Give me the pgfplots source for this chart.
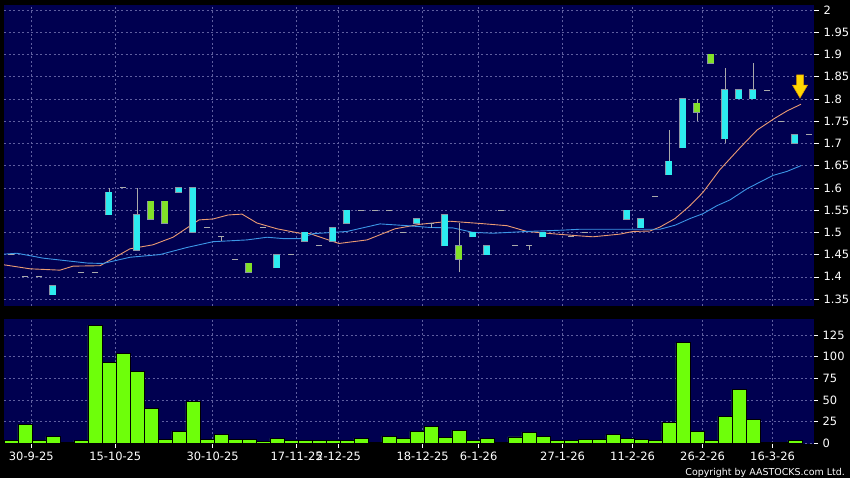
\documentclass[border=0pt]{standalone}
\usepackage{pgfplots}
\pgfplotsset{compat=1.18}
\usepackage{pgfplotstable}
\usepackage{fontspec}
\setmainfont{DejaVu Sans}

\definecolor{bgnavy}{RGB}{0,0,80}
\definecolor{gridc}{RGB}{95,95,160}
\definecolor{upc}{RGB}{45,235,240}
\definecolor{dnc}{RGB}{130,225,40}
\definecolor{outc}{RGB}{140,150,165}
\definecolor{volc}{RGB}{110,255,10}
\definecolor{maor}{RGB}{235,155,115}
\definecolor{mabl}{RGB}{60,150,230}
\definecolor{dashc}{RGB}{170,170,170}
\definecolor{arrowc}{RGB}{255,215,0}

% wicks: k low high
\pgfplotstableread{
k lo hi
7 1.54 1.60
9 1.46 1.60
15 1.48 1.49
30 1.51 1.52
32 1.41 1.52
37 1.46 1.47
47 1.63 1.73
49 1.75 1.80
51 1.70 1.87
53 1.80 1.88
}\wicks

% cyan bodies
\pgfplotstableread{
k lo hi
3 1.36 1.38
7 1.54 1.59
9 1.46 1.54
12 1.59 1.60
13 1.50 1.60
19 1.42 1.45
21 1.48 1.50
23 1.48 1.51
24 1.52 1.55
29 1.52 1.53
31 1.47 1.54
33 1.49 1.50
34 1.45 1.47
38 1.49 1.50
44 1.53 1.55
45 1.51 1.53
47 1.63 1.66
48 1.69 1.80
51 1.71 1.82
52 1.80 1.82
53 1.80 1.82
56 1.70 1.72
}\cyanbody

% green bodies
\pgfplotstableread{
k lo hi
10 1.53 1.57
11 1.52 1.57
17 1.41 1.43
32 1.44 1.47
49 1.77 1.79
50 1.88 1.90
}\greenbody

% flat days
\pgfplotstableread{
k v
0 1.45
1 1.40
2 1.40
5 1.41
6 1.41
8 1.60
14 1.51
15 1.49
16 1.44
18 1.51
20 1.45
22 1.47
25 1.55
26 1.55
27 1.55
28 1.50
30 1.52
35 1.55
36 1.47
37 1.47
40 1.49
41 1.50
46 1.58
54 1.82
55 1.75
57 1.72
}\flat

% volume
\pgfplotstableread{
k v
0 4
1 22
2 4
3 8
4 1.5
5 3.5
6 136
7 93
8 104
9 83
10 40
11 5
12 14
13 48
14 5
15 10
16 5
17 5
18 2.5
19 6
20 4
21 4
22 4
23 4
24 4
25 6
26 1.5
27 8.5
28 6
29 14
30 20
31 6.5
32 15.5
33 4
34 6
35 1.5
36 7.5
37 13
38 8
39 4
40 4
41 4.5
42 4.5
43 10
44 5.5
45 4.5
46 4
47 24.5
48 116
49 13.5
50 4
51 31.5
52 62
53 28
54 1.5
55 1.5
56 4
}\vol

\pgfplotsset{
  chartbase/.style={
    scale only axis, width=810bp, anchor=south west,
    xmin=-0.5, xmax=57.36, enlargelimits=false,
    axis background/.style={fill=bgnavy},
    axis line style={draw=none},
    xtick={1.45,7.45,14.4,20.4,23.4,29.4,33.4,39.4,44.4,49.4,54.4},
    grid=major,
    major grid style={gridc, dash pattern=on 2bp off 2.5bp, line width=0.6bp},
    yticklabel pos=right, ytick pos=right, xtick pos=lower, tick align=outside,
    ytick style={white, line width=0.6bp},
    major tick length=5bp,
    ticklabel style={font=\fontsize{11.5}{12}\selectfont, text=white},
    /pgf/number format/assume math mode=true,
    /pgf/number format/fixed,
    yticklabel style={anchor=west, inner sep=0pt, xshift=4.5bp},
  },
  bodystyle/.style n args={2}{draw=none, mark=none, forget plot,
    mark options={draw=none, fill=none},
    error bars/.cd, y dir=plus, y explicit, error mark=none,
    error bar style={line width=#2, draw=#1, line cap=butt}},
}

\begin{document}
\begin{tikzpicture}
\fill[black] (0,0) rectangle (850bp,478bp);
\useasboundingbox (0,0) rectangle (850bp,478bp);

% price panel
\begin{axis}[chartbase, at={(4bp,172bp)}, height=301bp,
  ymin=1.3344, ymax=2.0112,
  ytick={1.35,1.4,1.45,1.5,1.55,1.6,1.65,1.7,1.75,1.8,1.85,1.9,1.95,2},
  xticklabels={}, xtick style={draw=none},
]
% moving averages
\addplot[maor, line width=0.9bp] coordinates {
(-0.5,1.427) (1.36,1.418) (3.5,1.415) (4.43,1.424) (6.36,1.425) (8.5,1.463)
(10.14,1.472) (11.57,1.489) (13.43,1.528) (14.43,1.53) (15.5,1.539) (16.5,1.541)
(17.57,1.521) (19,1.508) (20.64,1.498) (21.36,1.497) (23.43,1.475) (25.43,1.483)
(27.43,1.508) (29.2,1.518) (31.36,1.525) (33.5,1.52) (35.43,1.515) (36.86,1.502)
(39,1.496) (40.64,1.492) (41.57,1.49) (43.5,1.496) (44.43,1.502) (45.64,1.503)
(46.36,1.512) (47.43,1.531) (48.5,1.56) (49.43,1.59) (50.64,1.641) (52.07,1.69)
(53.29,1.73) (54.43,1.754) (55.43,1.773) (56.43,1.788)
};
\addplot[mabl, line width=0.9bp] coordinates {
(-0.5,1.451) (0.43,1.453) (2.29,1.442) (5.43,1.431) (6.57,1.43) (8.5,1.444)
(10.64,1.45) (12.57,1.466) (14.43,1.479) (16.86,1.483) (18.29,1.489) (19.43,1.486)
(20.64,1.486) (21.57,1.497) (24,1.502) (26.36,1.519) (28.29,1.515) (29.93,1.511)
(31.57,1.51) (33,1.50) (34.43,1.498) (36.86,1.502) (39.43,1.505) (40.64,1.507)
(46.36,1.507) (47.43,1.516) (48.5,1.531) (49.43,1.542) (50.43,1.56) (51.36,1.573)
(52.57,1.598) (54.43,1.628) (55.43,1.637) (56.43,1.65)
};
% wicks
\addplot[bodystyle={dashc}{0.9bp}] table[x=k, y=lo, y error plus expr={\thisrow{hi}-\thisrow{lo}}] {\wicks};
% bodies: outline then fill
\addplot[bodystyle={outc}{7bp}] table[x=k, y expr={\thisrow{lo}-0.0012}, y error plus expr={\thisrow{hi}-\thisrow{lo}+0.0024}] {\cyanbody};
\addplot[bodystyle={upc}{5.4bp}] table[x=k, y=lo, y error plus expr={\thisrow{hi}-\thisrow{lo}}] {\cyanbody};
\addplot[bodystyle={outc}{7bp}] table[x=k, y expr={\thisrow{lo}-0.0012}, y error plus expr={\thisrow{hi}-\thisrow{lo}+0.0024}] {\greenbody};
\addplot[bodystyle={dnc}{5.4bp}] table[x=k, y=lo, y error plus expr={\thisrow{hi}-\thisrow{lo}}] {\greenbody};
% flat days
\addplot[only marks, mark=-, mark size=3.2bp, dashc, line width=0.9bp] table[x=k, y=v] {\flat};
% arrow
\fill[arrowc, draw={rgb,255:red,225;green,150;blue,0}, line width=0.5bp]
  (axis cs:56.11,1.854) -- (axis cs:56.61,1.854) -- (axis cs:56.61,1.831)
  -- (axis cs:56.9,1.831) -- (axis cs:56.36,1.802) -- (axis cs:55.82,1.831)
  -- (axis cs:56.11,1.831) -- cycle;
\end{axis}

% volume panel
\begin{axis}[chartbase, at={(4bp,34.5bp)}, height=124.5bp,
  ymin=0, ymax=143.4,
  ytick={0,25,50,75,100,125},
  xtick style={white, line width=0.6bp}, major tick length=4bp,
  xticklabels={30-9-25,15-10-25,30-10-25,17-11-25,2-12-25,18-12-25,6-1-26,27-1-26,11-2-26,26-2-26,16-3-26},
  xticklabel style={anchor=base, yshift=-13bp},
]
\addplot[ybar, bar width=14bp, bar shift=0pt, fill=volc, draw=black, line width=0.8bp] table[x=k, y=v] {\vol};
\end{axis}

\node[anchor=base east, font=\fontsize{9.5}{10}\selectfont, text=white, inner sep=0pt] at (845bp,2.5bp) {Copyright by AASTOCKS.com Ltd.};
\end{tikzpicture}
\end{document}
